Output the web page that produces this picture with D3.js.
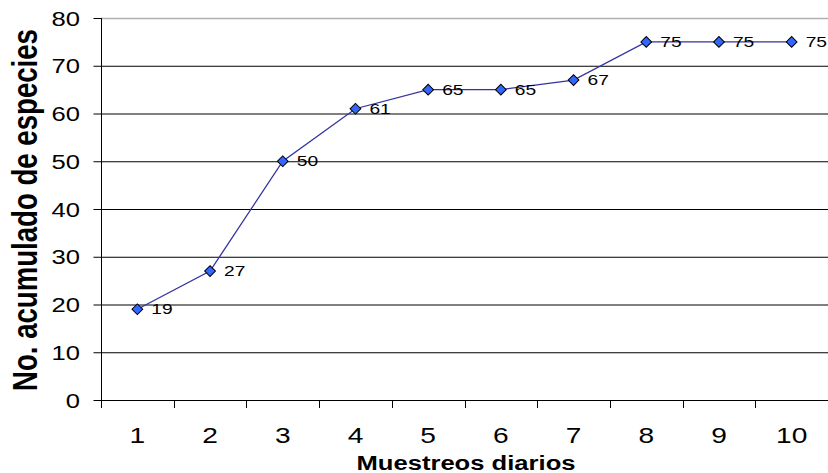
<!DOCTYPE html>
<html><head><meta charset="utf-8">
<script src="https://cdn.jsdelivr.net/npm/d3@7"></script>
<style>
html,body{margin:0;padding:0;background:#fff;}
svg{display:block;font-family:Arial,"Liberation Sans",sans-serif;}
</style></head>
<body>
<svg id="c" width="828" height="473"></svg>
<script>
const categories = ["1","2","3","4","5","6","7","8","9","10"];
const values = [19,27,50,61,65,65,67,75,75,75];
const yTicks = [0,10,20,30,40,50,60,70,80];
const xTitle = "Muestreos diarios";
const yTitle = "No. acumulado de especies";

(function(){
const svg = d3.select("#c");
const pL = 101, pR = 828, pT = 18, pB = 400;
const SX = 1.28; // horizontal stretch of text in the reference
const x = d3.scaleBand().domain(categories).range([pL, pR]).padding(0);
const y = d3.scaleLinear().domain([0,80]).range([pB, pT]);
const FF = "Arial, 'Liberation Sans', sans-serif";

// gridlines
svg.append("g").selectAll("line").data(yTicks.filter(d=>d>0)).join("line")
  .attr("x1", pL).attr("x2", pR)
  .attr("y1", d=>y(d)+0.5).attr("y2", d=>y(d)+0.5)
  .attr("stroke", d=> d===80 ? "#b0b0b0" : "#000").attr("stroke-width", d=> d===80 ? 1.5 : 1);

// y axis
const yAxis = svg.append("g").attr("transform", `translate(${pL+0.5},0)`)
  .call(d3.axisLeft(y).tickValues(yTicks).tickSize(8));
yAxis.select(".domain").attr("d", `M0,${pT}V${pB+8}`).attr("stroke","#000");
yAxis.selectAll(".tick line").attr("stroke","#000");
yAxis.selectAll(".tick text")
  .attr("x",0).attr("y",0).attr("dy","0.35em")
  .attr("transform",`translate(-21.5,0) scale(${SX},1)`)
  .attr("font-size", 20).attr("fill","#000").attr("font-family",FF);

// x axis
const xAxis = svg.append("g").attr("transform", `translate(0,${pB+0.5})`)
  .call(d3.axisBottom(x).tickSize(0));
xAxis.select(".domain").attr("d", `M${pL},0H${pR}`).attr("stroke","#000");
xAxis.selectAll(".tick text")
  .attr("x",0).attr("y",0).attr("dy",0)
  .attr("transform",`translate(0,42.5) scale(${SX},1)`)
  .attr("font-size", 22).attr("fill","#000").attr("font-family",FF);
// tick marks between categories
const bounds = categories.map(c => x(c));
svg.append("g").selectAll("line").data(bounds).join("line")
  .attr("x1", d=>Math.round(d)+0.5).attr("x2", d=>Math.round(d)+0.5)
  .attr("y1", pB).attr("y2", pB+8).attr("stroke","#000");

// line
const cx = (i) => x(categories[i]) + x.bandwidth()/2;
svg.append("path").datum(values)
  .attr("d", d3.line().x((d,i)=>cx(i)).y(d=>y(d)))
  .attr("fill","none").attr("stroke","#3333a0").attr("stroke-width",1.3);

// markers
svg.append("g").selectAll("path").data(values).join("path")
  .attr("d", d3.symbol().type(d3.symbolSquare).size(58))
  .attr("transform",(d,i)=>`translate(${cx(i)},${y(d)}) rotate(45)`)
  .attr("fill","#3366ff").attr("stroke","#000").attr("stroke-width",1);

// data labels
svg.append("g").selectAll("text").data(values).join("text")
  .attr("transform",(d,i)=>`translate(${cx(i)+14},${y(d)+5}) scale(${SX},1)`)
  .attr("font-size",15).attr("fill","#000").attr("font-family",FF).text(d=>d);

// titles
svg.append("text").attr("transform",`translate(466,470) scale(${SX},1)`).attr("text-anchor","middle").attr("font-family",FF)
  .attr("font-size",20).attr("font-weight","bold").text(xTitle);
svg.append("text").attr("transform",`translate(37,210) scale(${SX},1) rotate(-90)`).attr("text-anchor","middle").attr("font-family",FF)
  .attr("font-size",27.6).attr("font-weight","bold").text(yTitle);
})();
</script>
</body></html>
